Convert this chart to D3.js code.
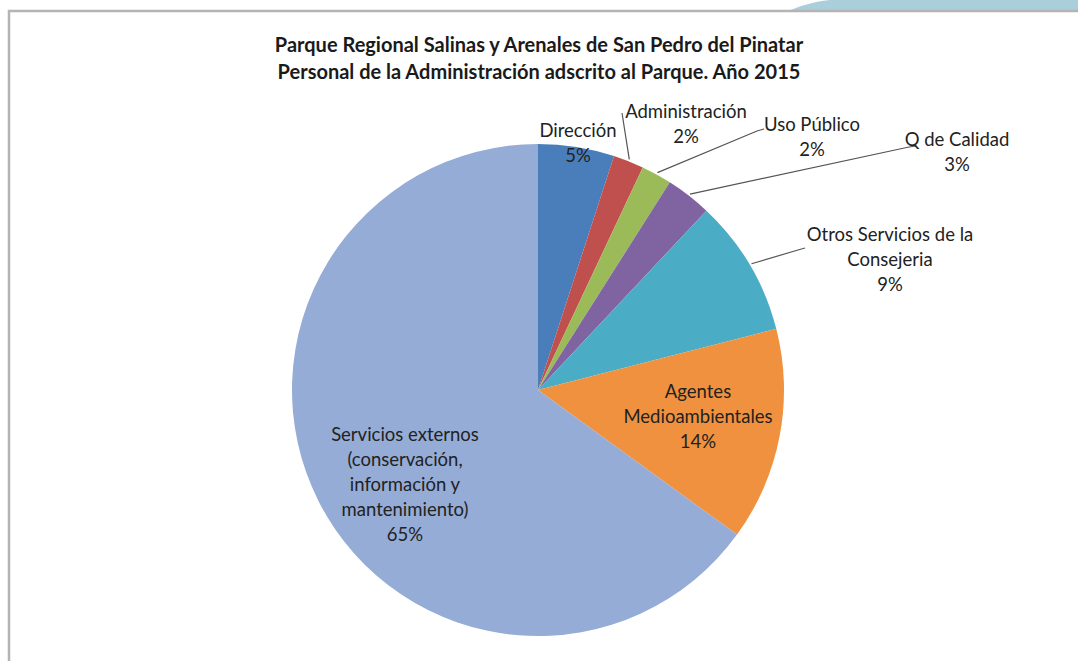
<!DOCTYPE html>
<html>
<head>
<meta charset="utf-8">
<script src="https://cdn.jsdelivr.net/npm/d3@7"></script>
<style>
  body { margin: 0; background: #fff; }
  svg { display: block; }
</style>
</head>
<body>
<script>
const categories = [
  'Dirección',
  'Administración',
  'Uso Público',
  'Q de Calidad',
  'Otros Servicios de la Consejeria',
  'Agentes Medioambientales',
  'Servicios externos (conservación, información y mantenimiento)'
]
const values = [5, 2, 2, 3, 9, 14, 65]
const colors = ['#4a7ebb', '#c0504d', '#9bbb59', '#8064a2', '#4bacc6', '#f0913f', '#95acd6']
const titleLines = [
  'Parque Regional Salinas y Arenales de San Pedro del Pinatar',
  'Personal de la Administración adscrito al Parque. Año 2015'
]

// label layout: text lines, anchor of first line, optional leader elbow/end
const labelLayout = [
  { lines: ['Dirección'], x: 578, y: 137 },
  { lines: ['Administración'], x: 686, y: 118, leader: [[622, 113], [622, 113]] },
  { lines: ['Uso Público'], x: 812, y: 131, leader: [[757, 131], [764, 129]] },
  { lines: ['Q de Calidad'], x: 957, y: 146, leader: [[909, 147], [916, 146]] },
  { lines: ['Otros Servicios de la', 'Consejeria'], x: 890, y: 241, leader: [[798, 250], [805, 248]] },
  { lines: ['Agentes', 'Medioambientales'], x: 698, y: 398 },
  { lines: ['Servicios externos', '(conservación,', 'información y', 'mantenimiento)'], x: 405, y: 441 }
]

const width = 1078
const height = 661
const cx = 538
const cy = 390
const radius = 246
const font = 'Lato, "Open Sans", sans-serif'

const svg = d3.select('body').append('svg')
  .attr('width', width)
  .attr('height', height)

// top-right decoration and frame
svg.append('path')
  .attr('d', 'M788,11 C800,6 812,2 830,0 L1078,0 L1078,11 Z')
  .attr('fill', '#aacfdb')
svg.append('path')
  .attr('d', `M9,${height} L9,11 L${width},11`)
  .attr('fill', 'none')
  .attr('stroke', '#b4b4b4')
  .attr('stroke-width', 2.5)

svg.append('g')
  .selectAll('text')
  .data(titleLines)
  .enter()
  .append('text')
  .attr('x', 539)
  .attr('y', (_, i) => 52 + i * 27)
  .attr('text-anchor', 'middle')
  .attr('font-family', font)
  .attr('font-weight', 'bold')
  .attr('font-size', 20)
  .attr('fill', '#1a1a1a')
  .text(d => d)

const pie = d3.pie().sort(null).value(d => d)
const arcs = pie(values)
const arc = d3.arc().innerRadius(0).outerRadius(radius)

const pieG = svg.append('g')
  .attr('transform', `translate(${cx},${cy})`)

pieG.selectAll('path')
  .data(arcs)
  .enter()
  .append('path')
  .attr('d', arc)
  .attr('fill', (_, i) => colors[i])

const total = d3.sum(values)
const edgeArc = d3.arc().innerRadius(radius + 2).outerRadius(radius + 2)

const labelG = svg.append('g')
  .attr('font-family', font)
  .attr('font-size', 18.5)
  .attr('fill', '#222')

labelG.selectAll('.label')
  .data(arcs)
  .enter()
  .each(function (d, i) {
    const layout = labelLayout[i]
    const g = d3.select(this)
    if (layout.leader) {
      const c = edgeArc.centroid(d)
      const pts = [[cx + c[0], cy + c[1]], ...layout.leader]
      g.append('path')
        .attr('d', d3.line()(pts))
        .attr('fill', 'none')
        .attr('stroke', '#555')
        .attr('stroke-width', 1.2)
    }
    const lines = layout.lines.concat([Math.round(d.data / total * 100) + '%'])
    g.append('text')
      .attr('text-anchor', 'middle')
      .selectAll('tspan')
      .data(lines)
      .enter()
      .append('tspan')
      .attr('x', layout.x)
      .attr('y', (_, j) => layout.y + j * 25)
      .text(t => t)
  })
</script>
</body>
</html>
